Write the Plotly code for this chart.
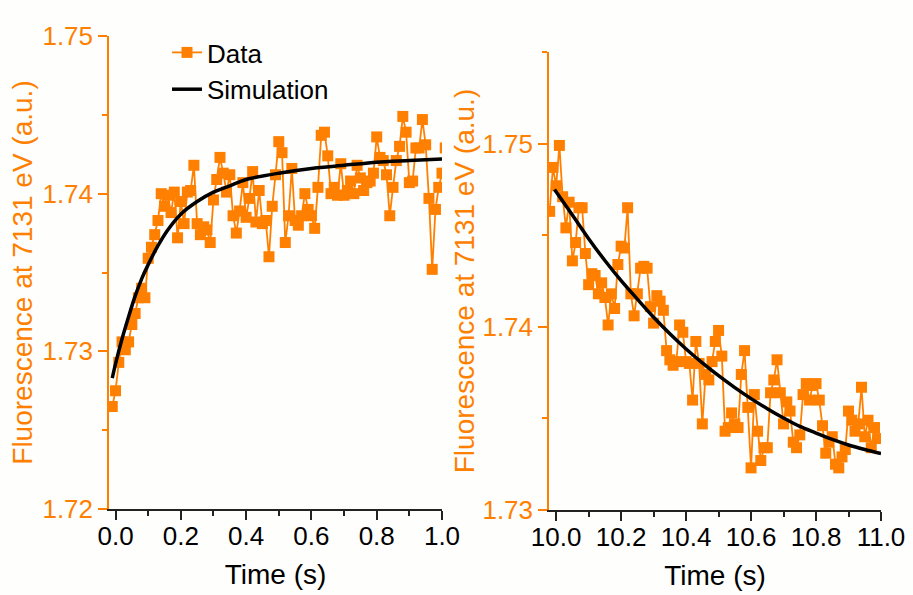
import plotly.graph_objects as go

# ---------------- data ----------------
left_t0, left_dt = -0.01, 0.01
left_data = [
    1.7265, 1.7275, 1.7293, 1.7306, 1.7301, 1.7306, 1.7317, 1.7324, 1.7334, 1.7340,
    1.7334, 1.7359, 1.7366, 1.7374, 1.7383, 1.7400, 1.7392, 1.7399, 1.7388, 1.7401,
    1.7372, 1.7395, 1.7381, 1.7401, 1.7402, 1.7418, 1.7381, 1.7374, 1.7379, 1.7377,
    1.7369, 1.7396, 1.7409, 1.7423, 1.7413, 1.7401, 1.7412, 1.7386, 1.7375, 1.7389,
    1.7407, 1.7385, 1.7397, 1.7414, 1.7382, 1.7402, 1.7381, 1.7383, 1.7360, 1.7392,
    1.7412, 1.7433, 1.7426, 1.7369, 1.7386, 1.7416, 1.7383, 1.7380, 1.7386, 1.7400,
    1.7390, 1.7386, 1.7378, 1.7404, 1.7437, 1.7439, 1.7424, 1.7400, 1.7404, 1.7399,
    1.7419, 1.7399, 1.7402, 1.7408, 1.7400, 1.7418, 1.7410, 1.7402, 1.7407, 1.7408,
    1.7413, 1.7436, 1.7423, 1.7421, 1.7412, 1.7386, 1.7404, 1.7421, 1.7430, 1.7449,
    1.7439, 1.7407, 1.7408, 1.7429, 1.7429, 1.7447, 1.7431, 1.7397, 1.7352, 1.7390,
    1.7404, 1.7413, 1.7429,
]
left_time = [round(left_t0 + left_dt * i, 3) for i in range(len(left_data))]

left_sim_time = [-0.01, 0.00, 0.02, 0.04, 0.06, 0.08, 0.10, 0.13, 0.16, 0.20,
                 0.25, 0.30, 0.35, 0.40, 0.50, 0.60, 0.70, 0.80, 0.90, 1.00]
left_sim = [1.7283, 1.7292, 1.7308, 1.7322, 1.7335, 1.7346, 1.7355, 1.7367, 1.7377, 1.7387,
            1.7395, 1.7401, 1.7405, 1.7409, 1.7413, 1.7416, 1.7418, 1.7420, 1.7421, 1.7422]

right_t0, right_dt = 9.98, 0.01
right_data = [
    1.7463, 1.7487, 1.7477, 1.7499, 1.7471, 1.7454, 1.7468, 1.7436, 1.7446, 1.7465,
    1.7465, 1.7440, 1.7423, 1.7429, 1.7428, 1.7418, 1.7424, 1.7416, 1.7401, 1.7418,
    1.7410, 1.7434, 1.7444, 1.7443, 1.7465, 1.7418, 1.7406, 1.7418, 1.7432, 1.7433,
    1.7432, 1.7411, 1.7402, 1.7417, 1.7414, 1.7409, 1.7387, 1.7382, 1.7379, 1.7381,
    1.7401, 1.7397, 1.7381, 1.7380, 1.7360, 1.7392, 1.7380, 1.7347, 1.7374, 1.7371,
    1.7381, 1.7392, 1.7398, 1.7384, 1.7343, 1.7345, 1.7353, 1.7347, 1.7345, 1.7374,
    1.7387, 1.7356, 1.7323, 1.7363, 1.7343, 1.7327, 1.7334, 1.7334, 1.7364, 1.7371,
    1.7382, 1.7364, 1.7347, 1.7359, 1.7354, 1.7337, 1.7334, 1.7341, 1.7363, 1.7369,
    1.7360, 1.7368, 1.7369, 1.7360, 1.7346, 1.7331, 1.7337, 1.7340, 1.7325, 1.7323,
    1.7329, 1.7333, 1.7354, 1.7349, 1.7343, 1.7347, 1.7367, 1.7340, 1.7349, 1.7334,
    1.7345, 1.7339,
]
right_time = [round(right_t0 + right_dt * i, 3) for i in range(len(right_data))]

right_sim_time = [9.995, 10.05, 10.10, 10.15, 10.20, 10.25, 10.30, 10.35, 10.40, 10.45, 10.50,
                  10.55, 10.60, 10.65, 10.70, 10.75, 10.80, 10.85, 10.90, 10.95, 11.00]
right_sim = [1.74750, 1.74610, 1.74481, 1.74362, 1.74252, 1.74151, 1.74052, 1.73962, 1.73879,
             1.73803, 1.73733, 1.73668, 1.73608, 1.73553, 1.73502, 1.73456, 1.73420, 1.73385,
             1.73355, 1.73330, 1.73308]

y_title = "Fluorescence at 7131 eV (a.u.)"
x_title = "Time (s)"

# ---------------- styling ----------------
ORANGE = "#FF8000"
BLACK = "#000000"
AXIS_DARK = "#222222"
FONT = "Arial, Liberation Sans, sans-serif"
W, H = 913, 595


def px_dom_x(a, b):
    return [a / W, b / W]


def px_dom_y(top, bottom):
    return [1 - bottom / H, 1 - top / H]


def make_y(rng, domain, anchor, standoff):
    return dict(
        domain=domain, anchor=anchor, range=rng, dtick=0.01, tick0=1.72, tickformat=".2f",
        showline=True, linecolor=ORANGE, linewidth=1.5,
        ticks="outside", ticklen=9, tickwidth=1.5, tickcolor=ORANGE,
        tickfont=dict(size=26, color=ORANGE, family=FONT),
        minor=dict(ticks="outside", ticklen=5, tickwidth=1.5, tickcolor=ORANGE, dtick=0.005, showgrid=False),
        showgrid=False, zeroline=False, automargin=False,
        title=dict(text=y_title, font=dict(size=28, color=ORANGE, family=FONT), standoff=standoff),
    )


def make_x(rng, domain, anchor, tick0):
    return dict(
        domain=domain, anchor=anchor, range=rng, dtick=0.2, tick0=tick0, tickformat=".1f",
        showline=True, linecolor=AXIS_DARK, linewidth=1.5,
        ticks="outside", ticklen=9, tickwidth=1.5, tickcolor=AXIS_DARK,
        tickfont=dict(size=26, color=BLACK, family=FONT), ticklabelstandoff=-6,
        minor=dict(ticks="outside", ticklen=5, tickwidth=1.5, tickcolor=AXIS_DARK, dtick=0.1, showgrid=False),
        showgrid=False, zeroline=False, automargin=False,
        title=dict(text=x_title, font=dict(size=28, color=BLACK, family=FONT), standoff=14),
    )


data_marker = dict(symbol="square", size=11, color=ORANGE, line=dict(width=0))
data_line = dict(color=ORANGE, width=1.8)
sim_line = dict(color=BLACK, width=3.5, shape="spline", smoothing=0.8)

fig = go.Figure()
fig.add_trace(go.Scatter(x=left_time, y=left_data, mode="lines+markers", name="Data",
                         marker=data_marker, line=data_line, xaxis="x", yaxis="y"))
fig.add_trace(go.Scatter(x=left_sim_time, y=left_sim, mode="lines", name="Simulation",
                         line=sim_line, xaxis="x", yaxis="y"))
fig.add_trace(go.Scatter(x=right_time, y=right_data, mode="lines+markers", name="Data",
                         marker=data_marker, line=data_line, xaxis="x2", yaxis="y2", showlegend=False))
fig.add_trace(go.Scatter(x=right_sim_time, y=right_sim, mode="lines", name="Simulation",
                         line=sim_line, xaxis="x2", yaxis="y2", showlegend=False))

fig.update_layout(
    width=W, height=H, template="none",
    margin=dict(l=0, r=0, t=0, b=0, autoexpand=False),
    paper_bgcolor="#FEFEFC", plot_bgcolor="#FEFEFC",
    font=dict(family=FONT, color=BLACK),
    xaxis=make_x([-0.02, 1.0], px_dom_x(109, 442), "y", 0.0),
    yaxis=make_y([1.72, 1.75], px_dom_y(36, 509), "x", 2),
    xaxis2=make_x([9.978, 11.0], px_dom_x(549, 881), "y2", 10.0),
    yaxis2=make_y([1.73, 1.755], px_dom_y(52, 510), "x2", 0),
    legend=dict(x=167 / W, y=1 - 29 / H, xanchor="left", yanchor="top",
                bgcolor="rgba(0,0,0,0)", borderwidth=0,
                font=dict(size=26, color=BLACK, family=FONT), tracegroupgap=0),
    showlegend=True,
)

fig.write_html("out.html")
